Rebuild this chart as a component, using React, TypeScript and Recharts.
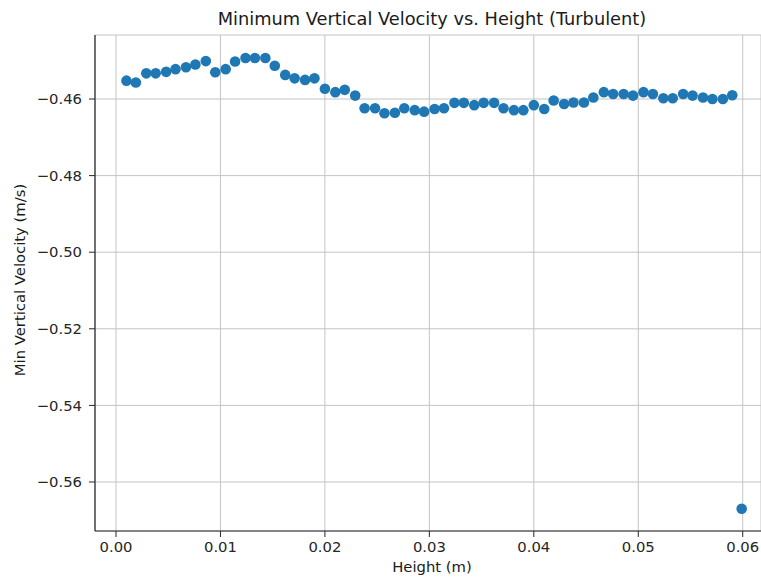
import React from 'react';
import { ScatterChart, Scatter, XAxis, YAxis, CartesianGrid } from 'recharts';

// height above bed (m)
const heights = [
    0.0010, 0.0019, 0.0029, 0.0038, 0.0048, 0.0057, 0.0067, 0.0076, 0.0086, 0.0095,
    0.0105, 0.0114, 0.0124, 0.0133, 0.0143, 0.0152, 0.0162, 0.0171, 0.0181, 0.0190,
    0.0200, 0.0210, 0.0219, 0.0229, 0.0238, 0.0248, 0.0257, 0.0267, 0.0276, 0.0286,
    0.0295, 0.0305, 0.0314, 0.0324, 0.0333, 0.0343, 0.0352, 0.0362, 0.0371, 0.0381,
    0.0390, 0.0400, 0.0410, 0.0419, 0.0429, 0.0438, 0.0448, 0.0457, 0.0467, 0.0476,
    0.0486, 0.0495, 0.0505, 0.0514, 0.0524, 0.0533, 0.0543, 0.0552, 0.0562, 0.0571,
    0.0581, 0.0590, 0.0599,
];

// min vertical velocity (m/s)
const minVelocity = [
    -0.4552, -0.4557, -0.4533, -0.4533, -0.4529, -0.4522, -0.4517, -0.4510, -0.4501, -0.4530,
    -0.4522, -0.4502, -0.4493, -0.4493, -0.4493, -0.4513, -0.4537, -0.4546, -0.4550, -0.4546,
    -0.4573, -0.4582, -0.4576, -0.4591, -0.4624, -0.4624, -0.4637, -0.4636, -0.4624, -0.4629,
    -0.4633, -0.4626, -0.4624, -0.4610, -0.4610, -0.4616, -0.4610, -0.4610, -0.4624, -0.4629,
    -0.4629, -0.4616, -0.4626, -0.4604, -0.4613, -0.4609, -0.4609, -0.4596, -0.4582, -0.4587,
    -0.4587, -0.4591, -0.4582, -0.4587, -0.4598, -0.4598, -0.4587, -0.4591, -0.4596, -0.4600,
    -0.4600, -0.4590, -0.5670,
];

const xTicks = [0, 0.01, 0.02, 0.03, 0.04, 0.05, 0.06];
const yTicks = [-0.56, -0.54, -0.52, -0.50, -0.48, -0.46];

const points = heights.map((h, i) => ({ h, v: minVelocity[i] }));

const BLUE = '#1f77b4';
const AXIS = '#262626';
const FONT = '"DejaVu Sans", sans-serif';
const FS = 14.8;

const fmtY = (v: number) => (v < 0 ? '\u2212' : '') + Math.abs(v).toFixed(2);

const Dot = (props: any) => <circle cx={props.cx} cy={props.cy} r={5.3} fill={BLUE} />;

export default function App() {
    return (
        <div style={{ position: 'absolute', left: 0, top: 0, width: 761, height: 579, background: '#fff', fontFamily: FONT, overflow: 'hidden' }}>
            <ScatterChart width={761} height={579} margin={{ top: 35, right: 0, bottom: 0, left: 0 }}>
                <CartesianGrid stroke="#c4c4c4" strokeWidth={1} />
                <XAxis
                    dataKey="h"
                    type="number"
                    domain={[-0.00201, 0.06175]}
                    allowDataOverflow
                    ticks={xTicks}
                    tickFormatter={(v: number) => v.toFixed(2)}
                    height={48}
                    tickSize={6}
                    tickMargin={4}
                    axisLine={{ stroke: AXIS, strokeWidth: 1.2 }}
                    tickLine={{ stroke: AXIS }}
                    tick={{ fill: AXIS, fontSize: FS, fontFamily: FONT }}
                />
                <XAxis
                    xAxisId="top"
                    orientation="top"
                    type="number"
                    domain={[-0.00201, 0.06175]}
                    height={0}
                    tick={false}
                    tickLine={false}
                    axisLine={{ stroke: AXIS, strokeWidth: 1.2 }}
                />
                <YAxis
                    dataKey="v"
                    type="number"
                    domain={[-0.5728, -0.44328]}
                    allowDataOverflow
                    ticks={yTicks}
                    tickFormatter={fmtY}
                    width={95}
                    tickSize={6}
                    tickMargin={7}
                    axisLine={{ stroke: AXIS, strokeWidth: 1.2 }}
                    tickLine={{ stroke: AXIS }}
                    tick={{ fill: AXIS, fontSize: FS, fontFamily: FONT }}
                />
                <Scatter data={points} fill={BLUE} shape={Dot} isAnimationActive={false} />
            </ScatterChart>
            <div style={{ position: 'absolute', left: 0, width: 864, top: 8, textAlign: 'center', fontSize: 17.8, color: '#1a1a1a' }}>
                Minimum Vertical Velocity vs. Height (Turbulent)
            </div>
            <div style={{ position: 'absolute', left: 0, width: 864, top: 558, textAlign: 'center', fontSize: FS, color: '#1a1a1a' }}>
                Height (m)
            </div>
            <div
                style={{
                    position: 'absolute', left: 20, top: 280, width: 300, marginLeft: -150, marginTop: -9,
                    textAlign: 'center', fontSize: FS, lineHeight: '18px', color: '#1a1a1a', transform: 'rotate(-90deg)',
                }}
            >
                Min Vertical Velocity (m/s)
            </div>
        </div>
    );
}
